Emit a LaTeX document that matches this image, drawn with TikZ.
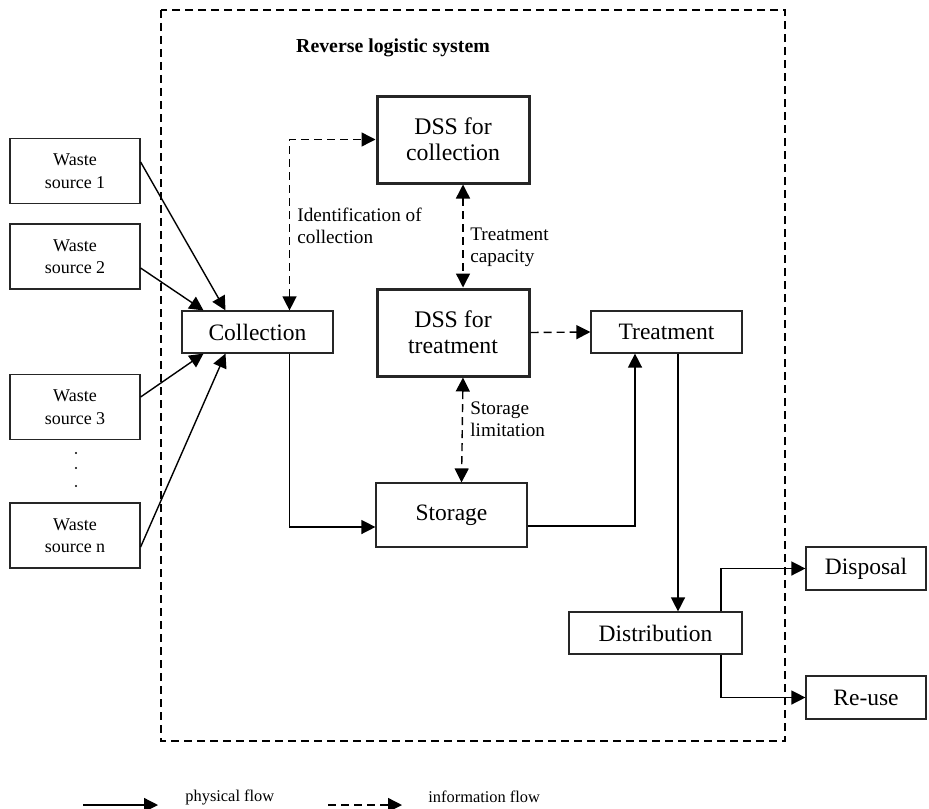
\documentclass[tikz,border=0pt]{standalone}
\usepackage{fontspec}
\setmainfont{Liberation Serif}
\usetikzlibrary{arrows.meta}

\begin{document}
\begin{tikzpicture}[
		x=0.5pt,
		y=-0.5pt,
		box/.style={draw=black!85,line width=0.6pt,minimum width=75.5pt,minimum height=21pt,inner sep=0pt,font=\fontsize{11.75}{14}\selectfont},
		srcbox/.style={box,minimum width=65pt,minimum height=32.5pt,align=center,font=\fontsize{9}{11.3}\selectfont},
		dssbox/.style={box,line width=1.5pt,minimum width=76pt,minimum height=43.5pt,align=center,font=\fontsize{11.9}{13}\selectfont},
		phys/.style={-{Triangle[length=7pt,width=7pt]},line width=0.7pt},
		info/.style={phys,dash pattern=on 4pt off 2.5pt},
		infotwo/.style={info,{Triangle[length=7pt,width=7pt]}-{Triangle[length=7pt,width=7pt]}},
		lbl/.style={align=left,inner sep=0pt,font=\fontsize{9.6}{10.8}\selectfont},
	]
		\useasboundingbox (0,0) rectangle (929,808);
		
		% system border and title
		\draw[dash pattern=on 4pt off 2.5pt,line width=0.7pt] (161,10) rectangle (785,741);
		\node[font=\bfseries\fontsize{9.9}{12}\selectfont] (title) at (393,48) {Reverse logistic system};
		
		% waste sources
		\foreach \s/\yc in {1/171, 2/256.5, 3/407, n/535.5}{
			\node[srcbox] (ws\s) at (75,\yc) {Waste\\source \s};
		}
		\foreach \yd in {453, 468, 486}{
			\fill (76,\yd) circle (0.6pt);
		}
		
		% main boxes
		\node[box] (coll) at (257.5,332) {Collection};
		\node[dssbox] (dssc) at (453,139.5) {DSS for\\collection};
		\node[dssbox] (dsst) at (453,332.5) {DSS for\\treatment};
		\node[box] (treat) at (666.5,332) {Treatment};
		\node[box,minimum height=32pt] (stor) at (451.5,515) {Storage};
		\node[box,minimum width=86.5pt] (dist) at (655.5,633) {Distribution};
		\node[box,minimum width=60pt,minimum height=21.5pt] (disp) at (866,568.5) {Disposal};
		\node[box,minimum width=60pt,minimum height=21.5pt] (reuse) at (866,697.5) {Re-use};
		
		% physical flow
		\foreach \s/\dy/\a/\dx in {1/4.5/north/-16, 2/-5.75/north/-27, 3/5/south/-27, n/-5.75/south/-16}{
			\draw[phys] ([yshift=\dy pt]ws\s.east) -- ([xshift=\dx pt]coll.\a);
		}
		\draw[phys] ([xshift=16pt]coll.south) |- ([yshift=-6pt]stor.west);
		\draw[phys] ([yshift=-5.5pt]stor.east) -| ([xshift=-15.75pt]treat.south);
		\coordinate (td) at ([xshift=5.75pt]treat.south);
		\draw[phys] (td) -- (td |- dist.north);
		\draw[phys] ([xshift=32.75pt]dist.north) |- (disp.west);
		\draw[phys] ([xshift=32.75pt]dist.south) |- (reuse.west);
		
		% information flow
		\draw[infotwo] ([xshift=16pt]coll.north) |- (dssc.west);
		\draw[infotwo] ([xshift=5pt]dssc.south) -- ([xshift=5pt]dsst.north);
		\draw[infotwo] ([xshift=5pt]dsst.south) -- ([xshift=5pt]stor.north);
		\draw[info] (dsst.east) -- (treat.west);
		
		\node[lbl,anchor=west] (lid) at (297,226) {Identification of\\collection};
		\node[lbl,anchor=west] (lcap) at (470,247.5) {Treatment\\capacity};
		\node[lbl,anchor=west] (llim) at (470,419) {Storage\\limitation};
		
		% legend
		\coordinate (pa) at (83,805);
		\coordinate (pb) at (158,805);
		\coordinate (ia) at (328,805);
		\coordinate (ib) at (402,805);
		\draw[phys] (pa) -- (pb);
		\draw[info] (ia) -- (ib);
		\node[anchor=west,inner sep=0pt,font=\fontsize{8.2}{10}\selectfont] (lphys) at (185,797) {physical flow};
		\node[anchor=west,inner sep=0pt,font=\fontsize{8.2}{10}\selectfont] (linfo) at (428,797) {information flow};
	\end{tikzpicture}
\end{document}
